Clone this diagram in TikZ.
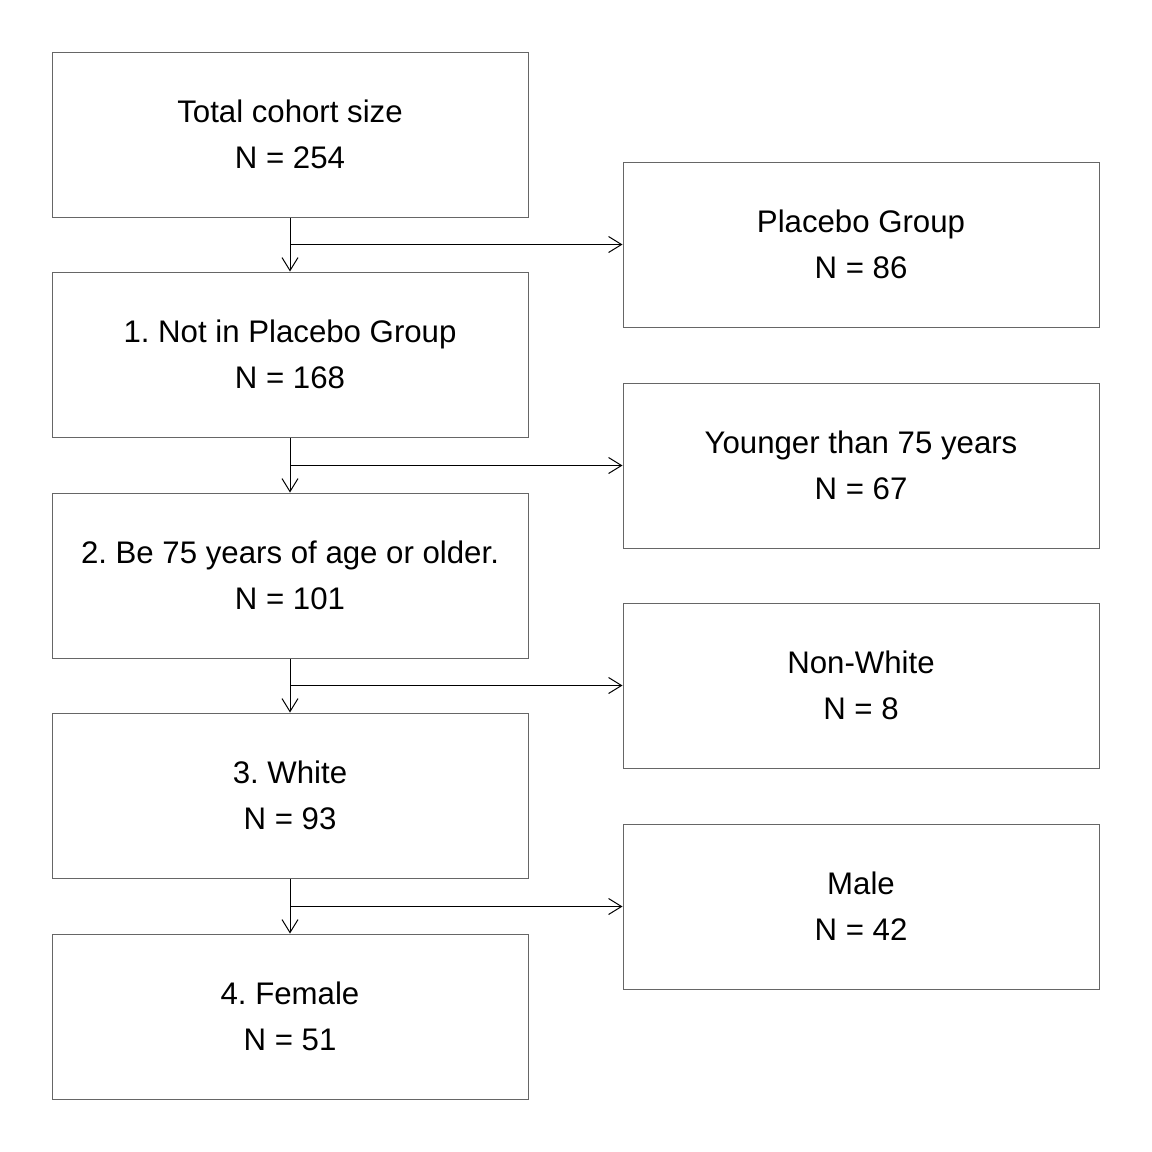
\documentclass[tikz,border=0pt]{standalone}
\usepackage{fontspec}
\setmainfont{Liberation Sans}
\usetikzlibrary{arrows.meta}
\frenchspacing
\begin{document}
\begin{tikzpicture}[x=0.5pt,y=-0.5pt,
  box/.style={draw=black!60, line width=0.5pt, minimum width=238pt, minimum height=82.5pt, inner sep=0pt, align=center, font=\fontsize{15.6}{23}\selectfont\frenchspacing},
  arr/.style={draw=black, line width=0.5pt, -{Straight Barb[length=6.5pt,width=8pt,line width=0.5pt]}}]
\useasboundingbox (0,0) rectangle (1152,1152);
\node[box] (b1) at (290,134.5) {Total cohort size\\N = 254};
\node[box] (b2) at (290,354.5) {1. Not in Placebo Group\\N = 168};
\node[box] (b3) at (290,575.5) {2. Be 75 years of age or older.\\N = 101};
\node[box] (b4) at (290,795.5) {3. White\\N = 93};
\node[box] (b5) at (290,1016.5) {4. Female\\N = 51};
\node[box] (r1) at (861,244.5) {Placebo Group\\N = 86};
\node[box] (r2) at (861,465.5) {Younger than 75 years\\N = 67};
\node[box] (r3) at (861,685.5) {Non-White\\N = 8};
\node[box] (r4) at (861,906.5) {Male\\N = 42};
\draw[arr] (b1.south) -- (b2.north);
\draw[arr] (b2.south) -- (b3.north);
\draw[arr] (b3.south) -- (b4.north);
\draw[arr] (b4.south) -- (b5.north);
\draw[arr] (b1.south |- r1.west) -- (r1.west);
\draw[arr] (b2.south |- r2.west) -- (r2.west);
\draw[arr] (b3.south |- r3.west) -- (r3.west);
\draw[arr] (b4.south |- r4.west) -- (r4.west);
\end{tikzpicture}
\end{document}
